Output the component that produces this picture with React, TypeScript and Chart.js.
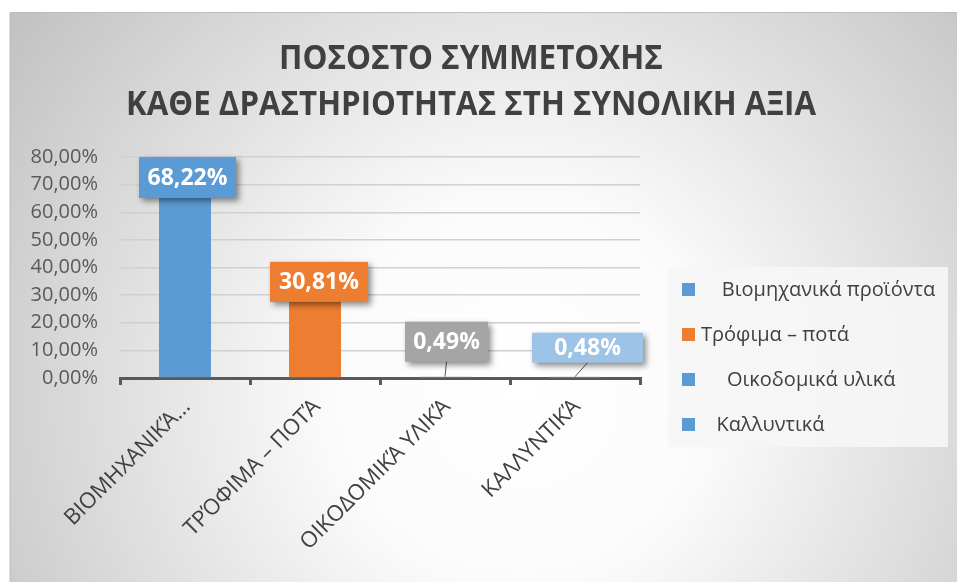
import { useEffect, useRef } from "react";
import { Chart, registerables } from "chart.js";

Chart.register(...registerables);

const titleLines = ["ΠΟΣΟΣΤΟ ΣΥΜΜΕΤΟΧΗΣ", "ΚΑΘΕ ΔΡΑΣΤΗΡΙΟΤΗΤΑΣ ΣΤΗ ΣΥΝΟΛΙΚΗ ΑΞΙΑ"];
const categories = ["ΒΙΟΜΗΧΑΝΙΚΆ...", "ΤΡΌΦΙΜΑ – ΠΟΤΆ", "ΟΙΚΟΔΟΜΙΚΆ ΥΛΙΚΆ", "ΚΑΛΛΥΝΤΙΚΆ"];
const legendLabels = ["    Βιομηχανικά προϊόντα", "Τρόφιμα – ποτά", "     Οικοδομικά υλικά", "   Καλλυντικά"];
const shares = [68.22, 30.81, 0.49, 0.48];
const barColors = ["#5B9BD5", "#ED7D31", "#A5A5A5", "#9DC3E6"];
const legendColors = ["#5B9BD5", "#ED7D31", "#5B9BD5", "#5B9BD5"];
const yMin = 0;
const yMax = 80;
const yStep = 10;

const FONT = "'Open Sans', 'Noto Sans', sans-serif";

const fmt = (v: number) => v.toFixed(2).replace(".", ",") + "%";

const backgroundPlugin = {
  id: "bg",
  beforeDraw(chart: any) {
    const ctx = chart.ctx;
    const W = chart.width;
    const H = chart.height;
    ctx.save();
    ctx.fillStyle = "#ffffff";
    ctx.fillRect(0, 0, W, H);
    const g = ctx.createRadialGradient(520, 390, 0, 520, 390, 640);
    g.addColorStop(0, "#ffffff");
    g.addColorStop(0.3, "#fbfbfb");
    g.addColorStop(1, "#c0c0c0");
    ctx.fillStyle = g;
    ctx.fillRect(10, 12, W - 10, H - 12);
    ctx.strokeStyle = "#bdbdbd";
    ctx.lineWidth = 1;
    ctx.beginPath();
    ctx.moveTo(10, H);
    ctx.lineTo(10, 12.5);
    ctx.lineTo(W, 12.5);
    ctx.stroke();

    // title
    ctx.fillStyle = "#404040";
    ctx.textAlign = "center";
    ctx.textBaseline = "middle";
    ctx.font = `bold 34px ${FONT}`;
    const targets = [384, 690];
    const ys = [59, 105];
    titleLines.forEach((t, i) => {
      const w = ctx.measureText(t).width;
      const s = targets[i] / w;
      ctx.save();
      ctx.translate(471, ys[i]);
      ctx.scale(s, 1);
      ctx.fillText(t, 0, 0);
      ctx.restore();
    });

    // legend
    const lx = 668, ly = 267, lw = 280, lh = 180;
    ctx.fillStyle = "rgba(246,246,246,0.9)";
    ctx.fillRect(lx, ly, lw, lh);
    ctx.font = `20px ${FONT}`;
    ctx.textAlign = "left";
    ctx.textBaseline = "middle";
    legendLabels.forEach((t, i) => {
      const cy = 290 + i * 45;
      ctx.fillStyle = legendColors[i];
      ctx.fillRect(682, cy - 7, 13, 13);
      ctx.fillStyle = "#404040";
      ctx.fillText(t, 701, cy);
    });
    ctx.restore();
  },
};

const labelLayout = [
  { dx: 2.5, cy: -12, w: 97, h: 41, leader: false },
  { dx: 4, cy: -11, w: 98, h: 40, leader: false },
  { dx: 1.5, cy: -35, w: 83, h: 40, leader: true },
  { dx: 12.5, cy: -29, w: 111, h: 30, leader: true },
];

const dataLabelPlugin = {
  id: "dataLabels",
  afterDatasetsDraw(chart: any) {
    const ctx = chart.ctx;
    const meta = chart.getDatasetMeta(0);
    ctx.save();
    meta.data.forEach((bar: any, i: number) => {
      const L = labelLayout[i];
      const cx = bar.x + L.dx;
      const cy = bar.y + L.cy;
      if (L.leader) {
        ctx.strokeStyle = "#595959";
        ctx.lineWidth = 1;
        ctx.beginPath();
        ctx.moveTo(cx, cy + L.h / 2);
        ctx.lineTo(bar.x, bar.y);
        ctx.stroke();
      }
      ctx.save();
      ctx.shadowColor = "rgba(0,0,0,0.45)";
      ctx.shadowBlur = 6;
      ctx.shadowOffsetX = 3;
      ctx.shadowOffsetY = 3;
      ctx.fillStyle = barColors[i];
      ctx.fillRect(cx - L.w / 2, cy - L.h / 2, L.w, L.h);
      ctx.restore();
      ctx.fillStyle = "#ffffff";
      ctx.font = `bold 23px ${FONT}`;
      ctx.textAlign = "center";
      ctx.textBaseline = "middle";
      ctx.fillText(fmt(shares[i]), cx, cy + 1);
    });
    ctx.restore();
  },
};

export default function App() {
  const ref = useRef<HTMLCanvasElement | null>(null);
  useEffect(() => {
    if (!ref.current) return;
    const chart = new Chart(ref.current, {
      type: "bar",
      data: {
        labels: categories,
        datasets: [
          {
            label: "Ποσοστό",
            data: shares,
            backgroundColor: barColors,
            barPercentage: 0.4,
            categoryPercentage: 1,
          },
        ],
      },
      options: {
        responsive: false,
        animation: false,
        devicePixelRatio: 1,
        layout: { padding: { left: 10, top: 157, right: 317, bottom: 0 } },
        plugins: { legend: { display: false }, title: { display: false }, tooltip: { enabled: false } },
        scales: {
          x: {
            offset: true,
            grid: {
              drawOnChartArea: false,
              drawTicks: true,
              tickLength: 7,
              color: "#595959",
              lineWidth: 3,
              offset: true,
            },
            border: { display: true, color: "#595959", width: 3 },
            ticks: {
              color: "#404040",
              font: { family: FONT, size: 22 },
              minRotation: 45,
              maxRotation: 45,
              autoSkip: false,
              padding: 9,
              labelOffset: 2,
            },
            afterFit(scale: any) {
              scale.height = 204;
            },
          },
          y: {
            min: yMin,
            max: yMax,
            ticks: {
              stepSize: yStep,
              color: "#595959",
              font: { family: FONT, size: 20 },
              padding: 22,
              callback: (v: any) => fmt(Number(v)),
            },
            grid: { color: "#d0d0d0", lineWidth: 1.5, drawTicks: false },
            border: { display: false },
            afterFit(scale: any) {
              scale.width = 110;
            },
          },
        },
      },
      plugins: [backgroundPlugin, dataLabelPlugin],
    });
    return () => chart.destroy();
  }, []);
  return (
    <div style={{ position: "fixed", left: 0, top: 0, width: 957, height: 582 }}>
      <canvas ref={ref} width={957} height={582} />
    </div>
  );
}
